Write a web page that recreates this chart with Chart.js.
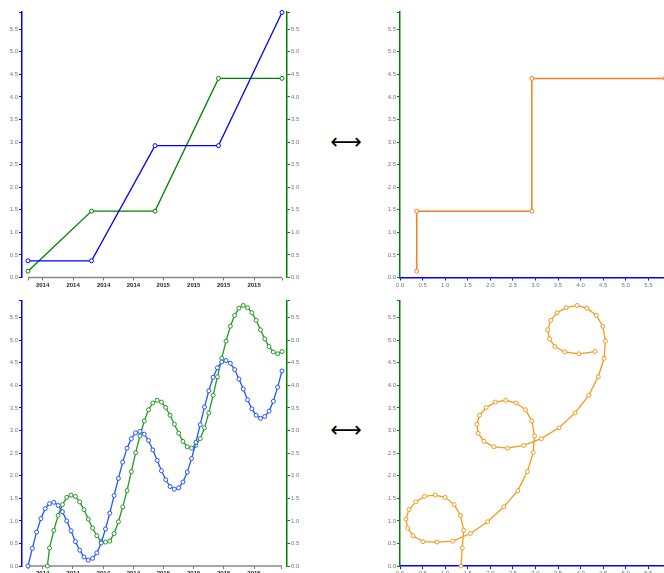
<!DOCTYPE html>
<html><head><meta charset="utf-8">
<script src="https://cdn.jsdelivr.net/npm/chart.js@4.4.1/dist/chart.umd.min.js"></script>
<style>
html,body{margin:0;padding:0;background:#fff;overflow:hidden;width:664px;height:573px;position:relative;}
canvas{position:absolute;}
.arrow{position:absolute;width:60px;height:30px;display:flex;align-items:center;justify-content:center;font-family:"DejaVu Sans";font-size:22px;color:#000;line-height:1;}
</style></head><body>
<canvas id="c1" width="310" height="295" style="left:0;top:0;width:310px;height:295px"></canvas>
<canvas id="c2" width="300" height="295" style="left:380px;top:0;width:300px;height:295px"></canvas>
<canvas id="c3" width="310" height="300" style="left:0;top:295px;width:310px;height:300px"></canvas>
<canvas id="c4" width="300" height="300" style="left:380px;top:295px;width:300px;height:300px"></canvas>
<div class="arrow" style="left:316px;top:127px">⟷</div>
<div class="arrow" style="left:316px;top:415px">⟷</div>
<script>
// ---- data ----
const stepIndex = [0, 1, 2, 3, 4];
const stepBlue  = [0.37, 0.37, 2.92, 2.92, 5.87];
const stepGreen = [0.14, 1.47, 1.47, 4.41, 4.41];

const waveBlue = [0, 0.39, 0.75, 1.05, 1.27, 1.38, 1.41, 1.34, 1.20, 1.00,
  0.78, 0.54, 0.35, 0.20, 0.13, 0.17, 0.29, 0.51, 0.82, 1.17,
  1.56, 1.94, 2.30, 2.61, 2.82, 2.95, 2.98, 2.92, 2.78, 2.57,
  2.34, 2.11, 1.91, 1.76, 1.70, 1.73, 1.86, 2.08, 2.38, 2.74,
  3.13, 3.52, 3.88, 4.18, 4.39, 4.52, 4.55, 4.49, 4.35, 4.14,
  3.92, 3.68, 3.48, 3.34, 3.27, 3.31, 3.43, 3.65, 3.96, 4.32];
const waveGreen = [0, 0.40, 0.79, 1.12, 1.36, 1.52, 1.57, 1.54, 1.42, 1.25,
  1.04, 0.84, 0.67, 0.54, 0.53, 0.55, 0.72, 0.98, 1.31, 1.67,
  2.09, 2.51, 2.88, 3.21, 3.46, 3.61, 3.67, 3.63, 3.51, 3.34,
  3.14, 2.94, 2.76, 2.64, 2.61, 2.67, 2.82, 3.06, 3.39, 3.78,
  4.19, 4.60, 4.98, 5.31, 5.55, 5.71, 5.77, 5.72, 5.61, 5.44,
  5.23, 5.03, 4.86, 4.74, 4.70, 4.75];
const waveGreenStartIndex = 4.5;
const phaseStartBlue = 1.35;

const timeTickLabels = ['2014', '2014', '2014', '2014', '2015', '2015', '2015', '2015'];
const stepTickPos = [0.23, 0.71, 1.19, 1.66, 2.13, 2.61, 3.08, 3.56];
const waveTickPos = [3.41, 10.45, 17.49, 24.46, 31.43, 38.49, 45.46, 52.5];
const valueTicks = [0, 0.5, 1, 1.5, 2, 2.5, 3, 3.5, 4, 4.5, 5, 5.5];
const valueMax = 5.88;

// ---- derived ----
const waveIndex = waveBlue.map((_, i) => i);
const waveGreenIndex = [waveGreenStartIndex].concat(waveIndex.slice(5));
const phaseX = [phaseStartBlue].concat(waveBlue.slice(5));

const pts = (xs, ys) => xs.map((x, i) => ({x: x, y: ys[i]}));

const BLUE = '#0000ff', GREEN = '#008000';
const FONT = {family: 'Liberation Sans', size: 6};

function valueAxis(pos, color, size, horizontal) {
  return {
    type: 'linear', position: pos, min: 0, max: valueMax,
    afterBuildTicks: s => { s.ticks = valueTicks.concat([valueMax]).map(v => ({value: v})); },
    afterFit: s => { if (horizontal) s.height = size; else s.width = size; },
    border: {display: true, color: color, width: 1.5},
    grid: {display: true, drawOnChartArea: false, drawTicks: true, tickLength: 3, color: color, lineWidth: 1},
    ticks: {autoSkip: false, maxRotation: 0, minRotation: 0, color: '#777', font: FONT, padding: 1,
      callback: v => valueTicks.includes(v) ? v.toFixed(1) : ''}
  };
}
function timeAxis(min, max, tickPos, first, last, height) {
  return {
    type: 'linear', position: 'bottom', min: min, max: max,
    afterBuildTicks: s => { s.ticks = [first].concat(tickPos, [last]).map(v => ({value: v})); },
    afterFit: s => { s.height = height; },
    border: {display: false},
    grid: {display: true, drawOnChartArea: false, drawTicks: true, tickLength: 3, color: '#777', lineWidth: 1},
    ticks: {autoSkip: false, maxRotation: 0, minRotation: 0, color: '#222', font: {family: 'Liberation Sans', size: 6, weight: 'bold'}, padding: 1,
      callback: (v, i) => (i === 0 || i === tickPos.length + 1) ? '' : timeTickLabels[i - 1]}
  };
}
const domainLine = (first, last) => ({
  id: 'domainLine',
  beforeDatasetsDraw(chart) {
    const x = chart.scales.x, ctx = chart.ctx, y = chart.chartArea.bottom;
    ctx.save();
    ctx.strokeStyle = '#888'; ctx.lineWidth = 1.5;
    ctx.beginPath(); ctx.moveTo(x.getPixelForValue(first), y); ctx.lineTo(x.getPixelForValue(last), y); ctx.stroke();
    ctx.restore();
  }
});
function ds(data, color, axis, width) {
  return {data: data, borderColor: color, borderWidth: width || 1.3, pointRadius: 2, pointBorderWidth: 1,
    pointBackgroundColor: '#fff', pointBorderColor: color, tension: 0, fill: false, clip: false, yAxisID: axis || 'y'};
}
const base = {responsive: false, animation: false, plugins: {legend: {display: false}, tooltip: {enabled: false}}};

// top-left
new Chart(document.getElementById('c1'), {
  type: 'line',
  data: {datasets: [ds(pts(stepIndex, stepBlue), BLUE, 'y'), ds(pts(stepIndex, stepGreen), GREEN, 'y2')]},
  options: Object.assign({}, base, {
    layout: {padding: {top: 12, left: 0, right: 0, bottom: 0}},
    scales: {
      x: timeAxis(-6 / 63.5, 4 + 5 / 63.5, stepTickPos, 0, 4, 17.5),
      y: valueAxis('left', BLUE, 22),
      y2: valueAxis('right', GREEN, 23)
    }
  }),
  plugins: [domainLine(0, 4)]
});

// top-right
new Chart(document.getElementById('c2'), {
  type: 'line',
  data: {datasets: [ds(pts(stepBlue, stepGreen), '#f47f1e', 'y', 1.5)]},
  options: Object.assign({}, base, {
    layout: {padding: {top: 12, left: 0, right: 14.5, bottom: 0}},
    scales: {
      x: valueAxis('bottom', BLUE, 17.5, true),
      y: valueAxis('left', GREEN, 20)
    }
  })
});

// bottom-left
new Chart(document.getElementById('c3'), {
  type: 'line',
  data: {datasets: [ds(pts(waveIndex, waveBlue), '#2255ff', 'y', 1.3), ds(pts(waveGreenIndex, waveGreen), '#229922', 'y2', 1.3)]},
  options: Object.assign({}, base, {
    layout: {padding: {top: 5.5, left: 0, right: 0, bottom: 0}},
    scales: {
      x: timeAxis(-6 / 4.305, 59 + 5 / 4.305, waveTickPos, 0, 59, 29),
      y: valueAxis('left', BLUE, 22),
      y2: valueAxis('right', GREEN, 23)
    }
  }),
  plugins: [domainLine(0, 59)]
});

// bottom-right
new Chart(document.getElementById('c4'), {
  type: 'line',
  data: {datasets: [ds(pts(phaseX, waveGreen), '#f59a1a', 'y', 1.3)]},
  options: Object.assign({}, base, {
    layout: {padding: {top: 5.5, left: 0, right: 14.5, bottom: 0}},
    scales: {
      x: valueAxis('bottom', BLUE, 29, true),
      y: valueAxis('left', GREEN, 20)
    }
  })
});
</script>
</body></html>
